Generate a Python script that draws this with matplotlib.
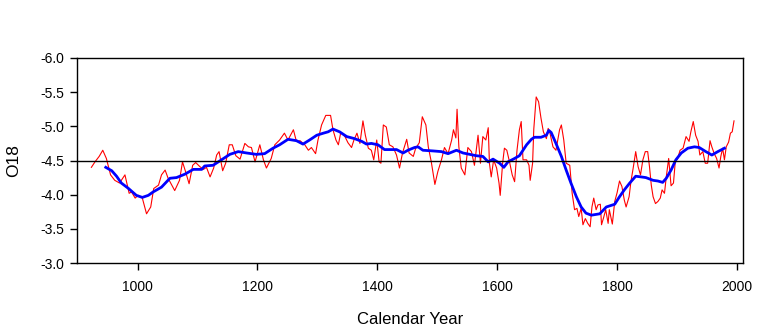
import numpy as np
import matplotlib
matplotlib.use('Agg')
import matplotlib.pyplot as plt

plt.rcParams['font.family'] = ['Liberation Sans', 'DejaVu Sans']

# 原始序列（红线）
year_raw = [923, 929, 936, 942, 948, 955, 962, 970, 979, 986, 990, 996, 1001, 1008,
            1015, 1022, 1027, 1035, 1040, 1046, 1051, 1062, 1070, 1075, 1080, 1086,
            1092, 1097, 1104, 1110, 1115, 1121, 1127, 1132, 1136, 1142, 1147, 1153,
            1158, 1164, 1171, 1179, 1185, 1190, 1196, 1204, 1210, 1215, 1223, 1229,
            1237, 1245, 1251, 1260, 1265, 1271, 1279, 1285, 1290, 1297, 1301, 1307,
            1314, 1322, 1326, 1331, 1335, 1339, 1346, 1351, 1357, 1361, 1366, 1371,
            1376, 1380, 1385, 1390, 1394, 1399, 1403, 1406, 1410, 1415, 1420, 1426,
            1432, 1437, 1442, 1449, 1453, 1460, 1464, 1470, 1475, 1481, 1485, 1490,
            1496, 1501, 1507, 1512, 1518, 1524, 1527, 1531, 1533, 1536, 1540, 1546,
            1551, 1557, 1562, 1568, 1572, 1576, 1581, 1585, 1587, 1590, 1594, 1599,
            1603, 1605, 1609, 1612, 1616, 1621, 1625, 1629, 1633, 1637, 1640, 1643,
            1649, 1653, 1655, 1659, 1661, 1665, 1669, 1673, 1677, 1682, 1685, 1688,
            1693, 1698, 1704, 1707, 1711, 1715, 1721, 1725, 1729, 1733, 1736, 1740,
            1743, 1747, 1751, 1755, 1758, 1761, 1765, 1768, 1772, 1774, 1777, 1781,
            1785, 1787, 1792, 1796, 1800, 1804, 1808, 1812, 1815, 1820, 1823, 1827,
            1831, 1835, 1839, 1843, 1847, 1851, 1854, 1857, 1860, 1864, 1868, 1872,
            1875, 1879, 1882, 1886, 1890, 1894, 1897, 1901, 1905, 1910, 1915, 1920,
            1923, 1927, 1931, 1935, 1938, 1943, 1947, 1951, 1955, 1958, 1962, 1966,
            1970, 1973, 1976, 1979, 1982, 1986, 1989, 1992, 1995]
o18_raw = [-4.40, -4.48, -4.56, -4.65, -4.53, -4.29, -4.21, -4.17, -4.29, -4.02, -4.04,
           -3.95, -3.99, -3.95, -3.72, -3.82, -4.09, -4.14, -4.29, -4.36, -4.24, -4.06,
           -4.21, -4.48, -4.34, -4.16, -4.43, -4.47, -4.41, -4.37, -4.40, -4.26, -4.39,
           -4.58, -4.63, -4.35, -4.46, -4.73, -4.73, -4.57, -4.52, -4.75, -4.70, -4.69,
           -4.48, -4.73, -4.51, -4.39, -4.53, -4.73, -4.80, -4.90, -4.80, -4.95, -4.78,
           -4.79, -4.73, -4.65, -4.69, -4.60, -4.80, -5.02, -5.16, -5.16, -4.95, -4.80,
           -4.73, -4.91, -4.85, -4.76, -4.69, -4.80, -4.90, -4.75, -5.08, -4.87, -4.68,
           -4.65, -4.51, -4.80, -4.48, -4.46, -5.02, -4.99, -4.73, -4.70, -4.58, -4.39,
           -4.61, -4.81, -4.61, -4.56, -4.68, -4.76, -5.14, -5.02, -4.70, -4.48, -4.15,
           -4.34, -4.51, -4.69, -4.60, -4.80, -4.95, -4.83, -5.25, -4.70, -4.39, -4.29,
           -4.69, -4.63, -4.43, -4.87, -4.46, -4.85, -4.80, -4.98, -4.46, -4.26, -4.51,
           -4.39, -4.17, -3.99, -4.46, -4.68, -4.65, -4.46, -4.29, -4.19, -4.65, -4.95,
           -5.07, -4.51, -4.51, -4.43, -4.21, -4.46, -4.96, -5.43, -5.36, -5.12, -4.92,
           -4.82, -4.97, -4.90, -4.70, -4.65, -4.95, -5.02, -4.80, -4.46, -4.43, -4.02,
           -3.78, -3.80, -3.68, -3.80, -3.56, -3.65, -3.58, -3.53, -3.82, -3.95, -3.78,
           -3.85, -3.86, -3.56, -3.65, -3.78, -3.58, -3.78, -3.57, -3.90, -4.03, -4.20,
           -4.12, -3.92, -3.82, -3.97, -4.19, -4.40, -4.63, -4.41, -4.29, -4.51, -4.63,
           -4.63, -4.41, -4.14, -3.97, -3.87, -3.90, -3.95, -4.07, -4.02, -4.26, -4.53,
           -4.13, -4.17, -4.48, -4.53, -4.65, -4.68, -4.85, -4.78, -4.92, -5.07, -4.87,
           -4.78, -4.58, -4.63, -4.46, -4.46, -4.79, -4.70, -4.60, -4.53, -4.39, -4.56,
           -4.68, -4.51, -4.70, -4.77, -4.90, -4.92, -5.08]

# 平滑序列（蓝线）
year_smooth = [947, 957, 965, 973, 985, 998, 1008, 1018, 1026, 1040, 1054, 1065, 1079,
               1093, 1107, 1112, 1126, 1140, 1154, 1168, 1182, 1198, 1212, 1226, 1237,
               1251, 1265, 1276, 1287, 1299, 1310, 1318, 1326, 1337, 1349, 1362, 1374,
               1382, 1390, 1401, 1412, 1432, 1443, 1451, 1462, 1468, 1476, 1493, 1507,
               1518, 1532, 1543, 1554, 1565, 1576, 1585, 1593, 1604, 1611, 1618, 1629,
               1637, 1649, 1657, 1662, 1673, 1682, 1686, 1690, 1698, 1707, 1715, 1723,
               1732, 1740, 1748, 1757, 1771, 1782, 1796, 1804, 1812, 1821, 1831, 1840,
               1848, 1860, 1868, 1876, 1882, 1890, 1898, 1907, 1918, 1929, 1937, 1948,
               1958, 1968, 1979]
o18_smooth = [-4.40, -4.35, -4.27, -4.17, -4.09, -3.99, -3.96, -3.99, -4.04, -4.11, -4.24,
              -4.25, -4.30, -4.37, -4.37, -4.42, -4.43, -4.51, -4.59, -4.63, -4.61, -4.59,
              -4.60, -4.68, -4.73, -4.81, -4.79, -4.74, -4.80, -4.87, -4.90, -4.92, -4.96,
              -4.92, -4.85, -4.82, -4.78, -4.74, -4.75, -4.73, -4.66, -4.66, -4.61, -4.65,
              -4.69, -4.70, -4.65, -4.64, -4.63, -4.60, -4.65, -4.61, -4.59, -4.57, -4.56,
              -4.48, -4.52, -4.46, -4.40, -4.48, -4.53, -4.57, -4.73, -4.81, -4.84, -4.84,
              -4.87, -4.94, -4.91, -4.75, -4.56, -4.36, -4.17, -3.97, -3.82, -3.73, -3.70,
              -3.72, -3.82, -3.86, -3.97, -4.07, -4.17, -4.27, -4.26, -4.25, -4.21, -4.20,
              -4.18, -4.24, -4.36, -4.51, -4.61, -4.68, -4.70, -4.69, -4.63, -4.58, -4.63,
              -4.68]

mean_level = -4.5
x_ticks = [1000, 1200, 1400, 1600, 1800, 2000]
y_ticks = [-6.0, -5.5, -5.0, -4.5, -4.0, -3.5, -3.0]

fig = plt.figure(figsize=(7.73, 3.31), dpi=100, facecolor='white')
ax = fig.add_axes([0.0996, 0.2054, 0.8616, 0.6194])

ax.plot(year_raw, o18_raw, color='#ff0000', lw=0.8)
ax.plot(year_smooth, o18_smooth, color='#0000ff', lw=2.0)
ax.axhline(mean_level, color='black', lw=1.0)

ax.set_xlim(899, 2010)
ax.set_ylim(-3.0, -6.0)
ax.set_xticks(x_ticks)
ax.set_yticks(y_ticks)
ax.set_yticklabels([f'{v:.1f}' for v in y_ticks])
ax.tick_params(direction='out', length=5, width=1, labelsize=10, colors='black')
ax.tick_params(axis='x', pad=7)
ax.tick_params(axis='y', pad=4)

for s in ax.spines.values():
    s.set_linewidth(1.0)

ax.set_xlabel('Calendar Year', fontsize=12, labelpad=13)
ax.set_ylabel('O18', fontsize=12.5, labelpad=14)

plt.savefig('out.png', dpi=100, facecolor='white')
